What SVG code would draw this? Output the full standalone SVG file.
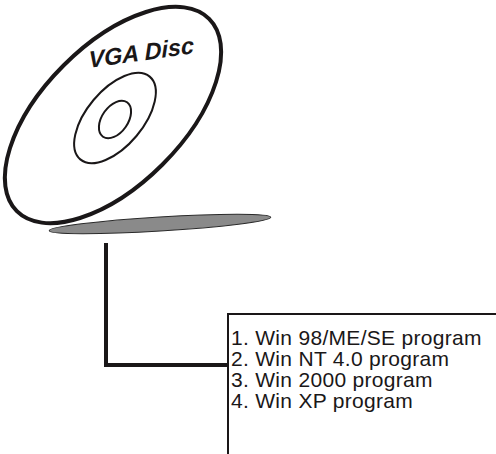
<svg xmlns="http://www.w3.org/2000/svg" width="496" height="454" viewBox="0 0 496 454">
  <style>
    .ring { fill: none; stroke: #1a1718; }
    .label { font-family: "Liberation Sans", Arial, sans-serif; font-size: 21px; letter-spacing: 0.3px; fill: #1a1718; }
    .title { font-family: "Liberation Sans", Arial, sans-serif; font-size: 23.5px; font-weight: bold; font-style: italic; fill: #1a1718; }
  </style>
  <rect width="496" height="454" fill="#ffffff"/>

  <!-- Disc with its shadow -->
  <g id="disc">
    <ellipse cx="160" cy="224" rx="111" ry="7" transform="rotate(-3.5 160 224)" fill="#8a8a8a" stroke="#2a2a2a" stroke-width="1"/>
    <ellipse cx="113" cy="115" rx="136" ry="70" transform="rotate(-45 113 115)" fill="#ffffff" stroke="#1a1718" stroke-width="4"/>
    <ellipse class="ring" cx="115" cy="118" rx="54" ry="28" transform="rotate(-50 115 118)" stroke-width="2"/>
    <ellipse class="ring" cx="115" cy="119.5" rx="21" ry="13" transform="rotate(-55 115 119.5)" stroke-width="2"/>
    <text class="title" transform="translate(89 68) rotate(-8) skewX(-6)">VGA Disc</text>
  </g>

  <!-- Connector -->
  <g id="connectors">
    <path d="M106,243 V365 H228" fill="none" stroke="#1a1718" stroke-width="4"/>
  </g>

  <!-- Program list -->
  <g id="program-list">
    <rect x="228" y="314" width="300" height="200" fill="none" stroke="#1a1718" stroke-width="2"/>
    <text class="label" x="231" y="345">1. Win 98/ME/SE program</text>
    <text class="label" x="231" y="366">2. Win NT 4.0 program</text>
    <text class="label" x="231" y="387">3. Win 2000 program</text>
    <text class="label" x="231" y="408">4. Win XP program</text>
  </g>
</svg>
